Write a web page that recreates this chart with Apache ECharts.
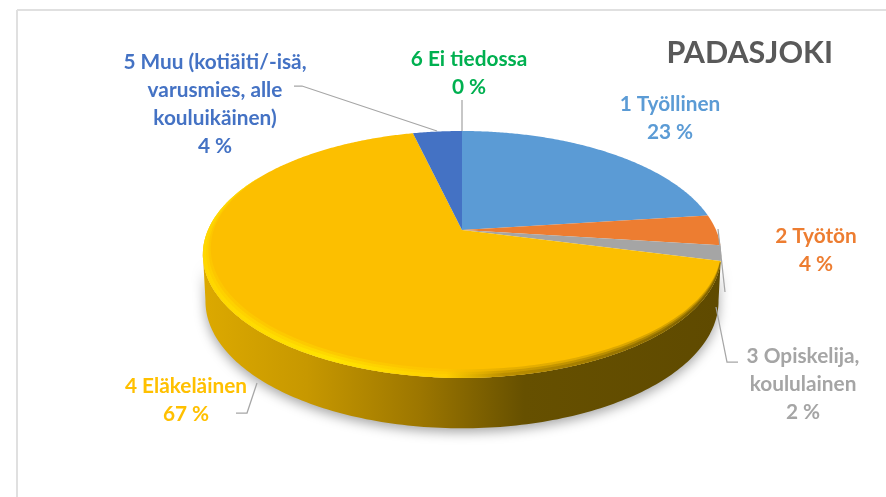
<!DOCTYPE html>
<html lang="fi">
<head>
    <meta charset="UTF-8">
    <script type="text/javascript" src="https://cdn.jsdelivr.net/npm/echarts@6/dist/echarts.min.js"></script>
    <style>
        html, body { margin: 0; padding: 0; background: #fff; }
        #chart { width: 886px; height: 497px; }
    </style>
</head>
<body>
    <div id="chart"></div>
</body>

<script>
    // data
    var chartTitle = "PADASJOKI";
    var categories = ["1 Työllinen", "2 Työtön", "3 Opiskelija,\nkoululainen", "4 Eläkeläinen", "5 Muu (kotiäiti/-isä,\nvarusmies, alle\nkouluikäinen)", "6 Ei tiedossa"];
    var values = [23, 4, 2, 67.3, 3.7, 0];
    var colors = ["#5b9bd5", "#ed7d31", "#a5a5a5", "#fcbf00", "#4472c4", "#00b050"];
    var textColors = ["#5b9bd5", "#ed7d31", "#a5a5a5", "#ffc000", "#4472c4", "#00b050"];

    // label layout, same order as categories
    var labelCenters = [[670, 118], [816, 250], [803, 384], [186, 400], [215, 104], [469, 73]];
    var leaderLines = [
        [],
        [[718, 229], [725, 292]],
        [[716, 307], [727, 362], [738, 362]],
        [[257, 383], [247, 413], [236, 413]],
        [[294, 86], [302, 86], [437, 131]],
        [[462, 100], [462, 131]]
    ];

    // tilted pie: circle seen in perspective
    var cx = 462, cy = 230, radX = 254, radY = 118.6, persp = 0.198;
    var wallDrop = 46, wallScaleX = 0.99, wallScaleY = 1.03;
    var total = values.reduce(function (a, b) { return a + b; }, 0);

    function topPoint(deg, scale) {
        var r = deg * Math.PI / 180;
        var u = Math.sin(r) * scale, v = -Math.cos(r) * scale;
        var d = 1 - persp * v;
        return [cx + radX * u / d, cy + radY * v / d];
    }
    function lowPoint(deg) {
        var r = deg * Math.PI / 180;
        var u = Math.sin(r), v = -Math.cos(r);
        var d = 1 - persp * v;
        return [cx + radX * wallScaleX * u / d, cy + wallDrop + radY * wallScaleY * v / d];
    }
    function sliceAngles(index) {
        var before = 0;
        for (var i = 0; i < index; i++) before += values[i];
        return [before / total * 360, (before + values[index]) / total * 360];
    }
    function xGradient(stops) {
        return {
            type: "linear", x: 203, y: 0, x2: 721, y2: 0, global: true,
            colorStops: stops
        };
    }

    // side wall of the disc, only the near half shows
    function renderWall() {
        var pts = [], deg;
        for (deg = 101; deg <= 259; deg++) pts.push(topPoint(deg, 1));
        for (deg = 259; deg >= 101; deg--) pts.push(lowPoint(deg));
        return {
            type: "polygon",
            shape: { points: pts },
            style: {
                fill: xGradient([
                    { offset: 0, color: "#dca900" },
                    { offset: 0.2, color: "#c79800" },
                    { offset: 0.42, color: "#9c7600" },
                    { offset: 0.62, color: "#665000" },
                    { offset: 1, color: "#5f4a00" }
                ]),
                shadowBlur: 12,
                shadowColor: "rgba(0,0,0,0.35)",
                shadowOffsetY: 4
            }
        };
    }

    // bevel on the rim, wider towards the viewer
    function bevelBand(fromDeg, toDeg, width, opacity) {
        var pts = [], deg;
        for (deg = fromDeg; deg <= toDeg; deg++) pts.push(topPoint(deg, 1));
        for (deg = toDeg; deg >= fromDeg; deg--) {
            var w = Math.max(0, Math.cos((deg - 200) * 0.9 * Math.PI / 180));
            pts.push(topPoint(deg, 1 - width * w));
        }
        return {
            type: "polygon",
            shape: { points: pts },
            style: {
                opacity: opacity,
                fill: xGradient([
                    { offset: 0, color: "#ffd800" },
                    { offset: 0.25, color: "#ffe600" },
                    { offset: 0.47, color: "#ffcf00" },
                    { offset: 0.58, color: "#b88c00" },
                    { offset: 1, color: "#6e5500" }
                ])
            }
        };
    }

    function renderSlice(params, api) {
        var index = params.dataIndex;
        if (api.value(0) === 0) return { type: "group", children: [] };
        var range = sliceAngles(index);
        var pts = [[cx, cy]];
        for (var deg = range[0]; deg < range[1]; deg += 0.5) pts.push(topPoint(deg, 1));
        pts.push(topPoint(range[1], 1));
        var children = [{
            type: "polygon",
            shape: { points: pts },
            style: { fill: colors[index] }
        }];
        // gold slice is the one on the near rim
        if (range[1] - range[0] > 180) {
            var from = Math.ceil(range[0]), to = Math.floor(range[1]);
            children.push(bevelBand(from, to, 0.05, 0.3));
            children.push(bevelBand(from, to, 0.035, 0.5));
            children.push(bevelBand(from, to, 0.02, 0.8));
        }
        return { type: "group", children: children };
    }

    function renderLabel(params) {
        var index = params.dataIndex;
        var children = [];
        if (leaderLines[index].length) {
            children.push({
                type: "polyline",
                shape: { points: leaderLines[index] },
                style: { stroke: "#a6a6a6", lineWidth: 1.25, fill: null }
            });
        }
        children.push({
            type: "text",
            style: {
                text: categories[index] + "\n" + Math.round(values[index]) + " %",
                x: labelCenters[index][0],
                y: labelCenters[index][1],
                align: "center",
                verticalAlign: "middle",
                fontFamily: "Lato",
                fontWeight: "bold",
                fontSize: 20.8,
                lineHeight: 28,
                fill: textColors[index]
            }
        });
        return { type: "group", children: children };
    }

    var chart = echarts.init(document.getElementById("chart"), null, { renderer: "canvas" });
    chart.setOption({
        animation: false,
        backgroundColor: "#ffffff",
        title: {
            text: chartTitle,
            right: 48,
            top: 33,
            textStyle: { fontFamily: "Lato", fontWeight: "bold", fontSize: 30.5, color: "#595959" }
        },
        graphic: [
            { type: "line", shape: { x1: 17, y1: 10, x2: 886, y2: 10 }, style: { stroke: "#e0e0e0", lineWidth: 2 } },
            { type: "line", shape: { x1: 17, y1: 10, x2: 17, y2: 497 }, style: { stroke: "#e0e0e0", lineWidth: 2 } }
        ],
        series: [
            { type: "custom", coordinateSystem: "none", silent: true, data: [values[3]], renderItem: renderWall },
            { type: "custom", coordinateSystem: "none", silent: true, data: values, renderItem: renderSlice },
            { type: "custom", coordinateSystem: "none", silent: true, data: values, renderItem: renderLabel }
        ]
    });
</script>
</html>
